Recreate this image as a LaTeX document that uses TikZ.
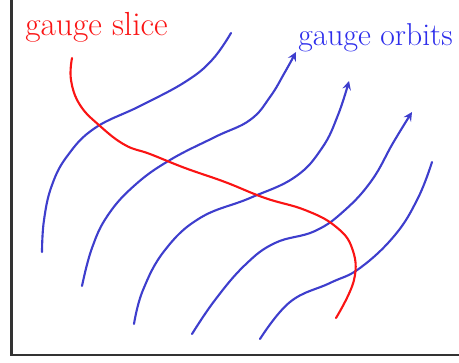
\documentclass[tikz,border=0pt]{standalone}
\usepackage{amsmath}
\usepackage{amssymb}
\usepackage{tikz}
\definecolor{orbitblue}{RGB}{62,62,205}
\definecolor{labelblue}{RGB}{45,45,235}
\definecolor{slicered}{RGB}{250,20,20}

\begin{document}
\begin{tikzpicture}[x=0.02cm,y=-0.02cm,>=stealth,
	orbit/.style={orbitblue,line width=1.2pt,line cap=round,smooth,tension=0.7},
	slice/.style={slicered,line width=1.2pt,line cap=round,smooth,tension=0.7}]
			\useasboundingbox (0,0) rectangle (459,362);
			\draw[line width=1.5pt,black!80] (11.5,0) -- (11.5,355) -- (459,355);
			\draw[orbit] plot coordinates {(42,252) (44,220) (52,185) (68,155) (95,128) (140,106) (185,82) (212,60) (231,33)};
			\draw[orbit,->] plot coordinates {(82,286) (92,248) (108,215) (135,185) (170,160) (215,137) (250,120) (270,97) (285,72) (296,52)};
			\draw[orbit,->] plot coordinates {(134,324) (143,290) (165,250) (200,218) (250,198) (295,177) (322,148) (338,115) (349,81)};
			\draw[orbit,->] plot coordinates {(192,334) (215,300) (245,265) (275,243) (315,231) (345,210) (372,180) (393,143) (412,112)};
			\draw[orbit] plot coordinates {(260,339) (290,302) (330,283) (360,268) (395,235) (418,198) (432,162)};
			\draw[slice] plot coordinates {(72,58) (71,80) (80,105) (100,126) (125,145) (150,154) (185,168) (225,182) (265,198) (305,210) (335,226) (352,248) (354,280) (336,318)};
			\node[anchor=base west,inner sep=0pt,slicered,font=\fontsize{19}{22}\selectfont] (slicelabel) at (25,35) {gauge slice};
			\node[anchor=base west,inner sep=0pt,labelblue,font=\fontsize{18}{21}\selectfont] (orbitlabel) at (298,45) {gauge orbits};
		\end{tikzpicture}
\end{document}
